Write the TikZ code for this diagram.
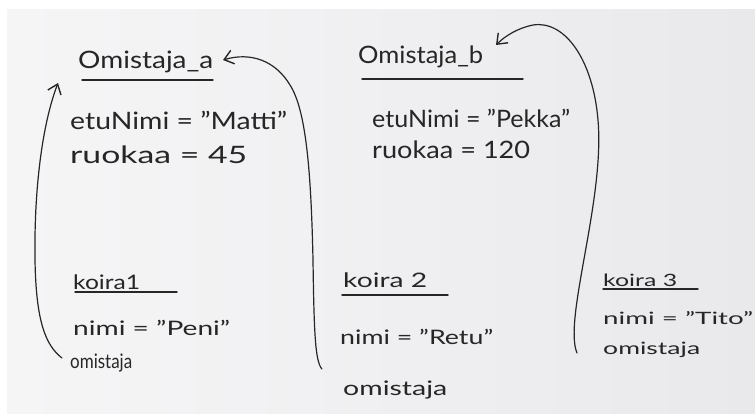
\documentclass[tikz,border=0pt]{standalone}
\usepackage{fontspec}
\usepackage{graphicx}
\setmainfont{Lato}
\usetikzlibrary{arrows.meta}
\definecolor{ink}{HTML}{262626}
\definecolor{paperL}{HTML}{F6F5F6}
\definecolor{paperR}{HTML}{E9E9EC}
\newcommand\hw[2]{\resizebox{#1pt}{\height}{#2}}
\tikzset{
  txt/.style={anchor=west, inner sep=0pt, text=ink, font=\fontsize{24}{26}\selectfont},
  txts/.style={txt, font=\fontsize{20}{22}\selectfont},
  txtxs/.style={txt, font=\fontsize{17}{19}\selectfont},
  uline/.style={draw=ink, line width=1.4pt, line cap=round},
  link/.style={draw=ink, line width=1.2pt, line cap=round,
    -{Straight Barb[length=9pt,width=14pt,line width=1.4pt]}}
}
\begin{document}
\begin{tikzpicture}[x=1pt,y=-1pt]
\useasboundingbox (0,0) rectangle (755,414);
\fill[white] (0,0) rectangle (755,414);
\shade[left color=paperL, right color=paperR] (7,10) rectangle (755,414);

% Omistaja_a
\node[txt] (oa) at (78,62) {\hw{135}{Omistaja\_a}};
\draw[uline] (82,80) -- (213,80);
\node[txt] (oa1) at (70,120) {\hw{217}{etuNimi = "Matti"}};
\node[txt] (oa2) at (70,155) {\hw{177}{ruokaa = 45}};

% Omistaja_b
\node[txt] (ob) at (358,57) {\hw{125}{Omistaja\_b}};
\draw[uline] (362,79) -- (523,79);
\node[txt] (ob1) at (372,118) {\hw{198}{etuNimi = "Pekka"}};
\node[txt] (ob2) at (372,150) {\hw{158}{ruokaa = 120}};

% koira1
\node[txts] (k1) at (73,282) {\hw{67}{koira1}};
\draw[uline] (75,292) -- (177,292);
\node[txts] (k1n) at (73,328) {\hw{157}{nimi = "Peni"}};
\node[txts] (k1o) at (70,363) {\hw{62}{omistaja}};

% koira 2
\node[txts] (k2) at (343,280) {\hw{84}{koira 2}};
\draw[uline] (342,295) -- (448,295);
\node[txts] (k2n) at (340,337) {\hw{153}{nimi = "Retu"}};
\node[txts] (k2o) at (343,390) {\hw{104}{omistaja}};

% koira 3
\node[txtxs] (k3) at (603,280) {\hw{74}{koira 3}};
\draw[uline] (603,289) -- (698,289);
\node[txtxs] (k3n) at (603,318) {\hw{150}{nimi = "Tito"}};
\node[txtxs] (k3o) at (603,350) {\hw{97}{omistaja}};

% reference ends
\coordinate (s1) at (62,358);
\coordinate (t1) at (58,83);
\coordinate (s2) at (322,369);
\coordinate (t2) at (223,60);
\coordinate (s3) at (577,353);
\coordinate (t3) at (496,45);

% koira1 -> Omistaja_a
\draw[link] (s1) .. controls (45,345) and (36,320) .. (35,260)
  .. controls (34,190) and (42,125) .. (t1);
% koira 2 -> Omistaja_a
\draw[link] (s2) .. controls (315,362) and (314,330) .. (313,260)
  .. controls (311,170) and (306,110) .. (290,85)
  .. controls (275,60) and (250,52) .. (t2);
% koira 3 -> Omistaja_b
\draw[link] (s3) .. controls (563,320) and (605,200) .. (598,120)
  .. controls (593,60) and (565,20) .. (533,25)
  .. controls (518,28) and (505,36) .. (t3);
\end{tikzpicture}
\end{document}
